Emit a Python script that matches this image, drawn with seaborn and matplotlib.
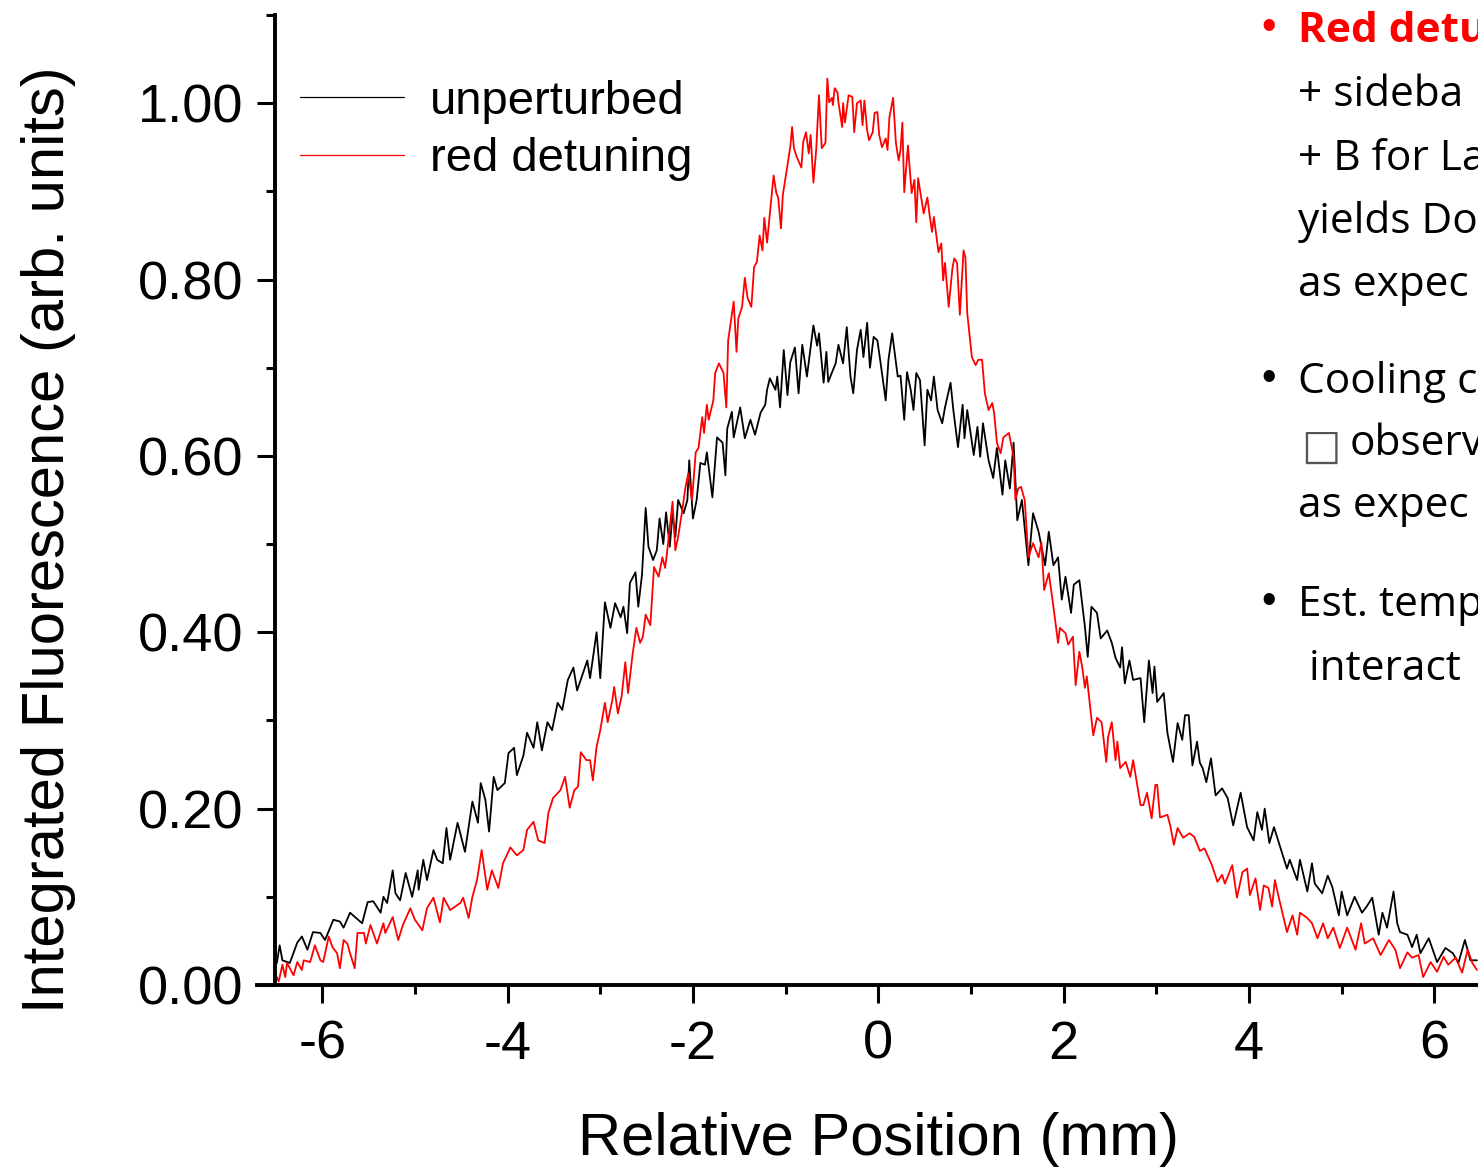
import matplotlib
matplotlib.use('Agg')
import numpy as np
import pandas as pd
import seaborn as sns
from matplotlib import pyplot as plt
from matplotlib.ticker import MultipleLocator, FormatStrFormatter

# values
unperturbed_x = [
    -6.49, -6.46, -6.43, -6.35, -6.27, -6.22, -6.16, -6.10, -6.02, -5.97, -5.88, -5.81, -5.77, -5.70,
    -5.57, -5.51, -5.45, -5.37, -5.34, -5.30, -5.24, -5.21, -5.16, -5.10, -5.03, -4.97, -4.96, -4.91,
    -4.87, -4.80, -4.76, -4.70, -4.66, -4.62, -4.54, -4.46, -4.38, -4.32, -4.29, -4.24, -4.20, -4.15,
    -4.11, -4.03, -3.99, -3.93, -3.90, -3.83, -3.79, -3.72, -3.68, -3.63, -3.57, -3.52, -3.46, -3.41,
    -3.35, -3.29, -3.25, -3.14, -3.11, -3.04, -3.00, -2.95, -2.89, -2.84, -2.78, -2.75, -2.71, -2.68,
    -2.62, -2.59, -2.55, -2.51, -2.48, -2.43, -2.39, -2.36, -2.32, -2.29, -2.25, -2.22, -2.19, -2.16,
    -2.10, -2.06, -2.04, -2.00, -1.96, -1.92, -1.87, -1.85, -1.79, -1.74, -1.68, -1.65, -1.63, -1.58,
    -1.56, -1.49, -1.44, -1.38, -1.33, -1.27, -1.22, -1.20, -1.17, -1.11, -1.09, -1.06, -1.02, -0.98,
    -0.95, -0.90, -0.86, -0.82, -0.77, -0.70, -0.66, -0.64, -0.59, -0.56, -0.54, -0.46, -0.43, -0.38,
    -0.34, -0.30, -0.27, -0.23, -0.19, -0.16, -0.12, -0.09, -0.05, -0.01, 0.02, 0.08, 0.11, 0.15,
    0.21, 0.24, 0.28, 0.31, 0.35, 0.38, 0.41, 0.45, 0.50, 0.53, 0.57, 0.60, 0.64, 0.69, 0.72, 0.78,
    0.81, 0.86, 0.91, 0.93, 0.96, 1.03, 1.07, 1.10, 1.13, 1.19, 1.24, 1.28, 1.34, 1.37, 1.42, 1.46,
    1.50, 1.55, 1.62, 1.67, 1.73, 1.80, 1.84, 1.89, 1.94, 1.98, 2.02, 2.08, 2.11, 2.17, 2.23, 2.26,
    2.30, 2.36, 2.40, 2.47, 2.52, 2.56, 2.61, 2.63, 2.66, 2.71, 2.75, 2.83, 2.87, 2.92, 2.96, 2.98,
    3.01, 3.08, 3.12, 3.18, 3.23, 3.28, 3.31, 3.35, 3.39, 3.44, 3.47, 3.50, 3.54, 3.59, 3.64, 3.71,
    3.77, 3.83, 3.91, 3.98, 4.05, 4.09, 4.14, 4.17, 4.22, 4.27, 4.36, 4.41, 4.44, 4.52, 4.55, 4.63,
    4.68, 4.71, 4.79, 4.85, 4.90, 4.97, 5.00, 5.06, 5.14, 5.22, 5.27, 5.33, 5.40, 5.44, 5.49, 5.56,
    5.60, 5.63, 5.71, 5.76, 5.81, 5.85, 5.94, 6.03, 6.12, 6.20, 6.26, 6.33, 6.39, 6.46]
unperturbed_y = [
    0.025, 0.045, 0.028, 0.025, 0.048, 0.055, 0.040, 0.060, 0.059, 0.051, 0.074, 0.072, 0.065, 0.082,
    0.070, 0.094, 0.095, 0.082, 0.100, 0.093, 0.130, 0.104, 0.096, 0.127, 0.100, 0.130, 0.108, 0.142,
    0.119, 0.153, 0.142, 0.138, 0.178, 0.142, 0.184, 0.151, 0.208, 0.184, 0.229, 0.210, 0.174, 0.236,
    0.221, 0.229, 0.263, 0.269, 0.238, 0.260, 0.286, 0.269, 0.298, 0.266, 0.298, 0.289, 0.320, 0.312,
    0.346, 0.360, 0.334, 0.368, 0.348, 0.400, 0.348, 0.434, 0.405, 0.433, 0.417, 0.429, 0.399, 0.456,
    0.468, 0.429, 0.465, 0.541, 0.497, 0.482, 0.493, 0.529, 0.500, 0.536, 0.497, 0.535, 0.508, 0.550,
    0.535, 0.550, 0.595, 0.529, 0.550, 0.592, 0.590, 0.604, 0.553, 0.621, 0.615, 0.578, 0.631, 0.650,
    0.621, 0.655, 0.620, 0.641, 0.624, 0.649, 0.658, 0.675, 0.688, 0.675, 0.690, 0.655, 0.720, 0.669,
    0.706, 0.723, 0.671, 0.726, 0.690, 0.748, 0.725, 0.739, 0.683, 0.718, 0.684, 0.705, 0.726, 0.705,
    0.746, 0.690, 0.671, 0.720, 0.743, 0.712, 0.751, 0.700, 0.735, 0.731, 0.709, 0.663, 0.709, 0.739,
    0.690, 0.691, 0.641, 0.695, 0.675, 0.652, 0.694, 0.686, 0.612, 0.675, 0.663, 0.690, 0.652, 0.637,
    0.655, 0.683, 0.652, 0.610, 0.658, 0.620, 0.652, 0.601, 0.633, 0.599, 0.637, 0.595, 0.575, 0.609,
    0.556, 0.595, 0.563, 0.615, 0.527, 0.550, 0.476, 0.535, 0.514, 0.476, 0.514, 0.476, 0.485, 0.437,
    0.463, 0.422, 0.454, 0.459, 0.406, 0.372, 0.429, 0.422, 0.393, 0.402, 0.388, 0.371, 0.360, 0.383,
    0.342, 0.368, 0.346, 0.348, 0.298, 0.368, 0.331, 0.361, 0.321, 0.331, 0.286, 0.253, 0.297, 0.278,
    0.306, 0.306, 0.249, 0.276, 0.252, 0.246, 0.230, 0.257, 0.215, 0.223, 0.212, 0.181, 0.218, 0.179,
    0.164, 0.196, 0.176, 0.200, 0.161, 0.179, 0.149, 0.132, 0.142, 0.119, 0.142, 0.106, 0.138, 0.115,
    0.104, 0.124, 0.111, 0.079, 0.106, 0.079, 0.100, 0.082, 0.089, 0.099, 0.057, 0.082, 0.065, 0.106,
    0.070, 0.060, 0.057, 0.043, 0.057, 0.036, 0.053, 0.026, 0.042, 0.036, 0.025, 0.051, 0.028, 0.028]

red_x = [
    -6.49, -6.47, -6.43, -6.40, -6.38, -6.31, -6.27, -6.22, -6.20, -6.13, -6.08, -6.02, -5.99, -5.93,
    -5.89, -5.84, -5.81, -5.77, -5.73, -5.70, -5.65, -5.62, -5.55, -5.53, -5.48, -5.41, -5.34, -5.32,
    -5.24, -5.18, -5.13, -5.05, -5.00, -4.92, -4.87, -4.80, -4.73, -4.69, -4.62, -4.51, -4.48, -4.42,
    -4.38, -4.33, -4.28, -4.22, -4.17, -4.10, -4.05, -3.97, -3.90, -3.83, -3.79, -3.72, -3.67, -3.60,
    -3.56, -3.51, -3.43, -3.38, -3.33, -3.28, -3.24, -3.21, -3.15, -3.11, -3.08, -3.04, -3.00, -2.95,
    -2.92, -2.87, -2.85, -2.81, -2.77, -2.73, -2.70, -2.65, -2.61, -2.57, -2.54, -2.51, -2.46, -2.42,
    -2.37, -2.33, -2.30, -2.28, -2.22, -2.19, -2.16, -2.12, -2.08, -2.05, -2.01, -1.97, -1.94, -1.90,
    -1.88, -1.85, -1.83, -1.78, -1.76, -1.72, -1.67, -1.64, -1.62, -1.56, -1.53, -1.51, -1.47, -1.44,
    -1.41, -1.37, -1.34, -1.31, -1.28, -1.25, -1.23, -1.20, -1.13, -1.10, -1.08, -1.05, -1.03, -0.98,
    -0.95, -0.93, -0.91, -0.88, -0.83, -0.81, -0.78, -0.75, -0.73, -0.70, -0.67, -0.64, -0.61, -0.57,
    -0.55, -0.53, -0.50, -0.49, -0.47, -0.44, -0.43, -0.39, -0.38, -0.36, -0.32, -0.28, -0.26, -0.23,
    -0.19, -0.17, -0.15, -0.12, -0.10, -0.06, -0.04, -0.01, 0.01, 0.04, 0.08, 0.10, 0.12, 0.16,
    0.19, 0.22, 0.24, 0.26, 0.28, 0.32, 0.36, 0.39, 0.41, 0.43, 0.49, 0.53, 0.55, 0.58,
    0.60, 0.65, 0.68, 0.70, 0.72, 0.76, 0.80, 0.82, 0.85, 0.88, 0.92, 0.94, 0.96, 1.01,
    1.05, 1.08, 1.12, 1.15, 1.19, 1.23, 1.25, 1.28, 1.32, 1.35, 1.41, 1.46, 1.48, 1.51,
    1.54, 1.58, 1.62, 1.67, 1.73, 1.76, 1.79, 1.84, 1.89, 1.94, 1.96, 2.02, 2.05, 2.10,
    2.13, 2.17, 2.20, 2.23, 2.25, 2.32, 2.36, 2.41, 2.46, 2.48, 2.52, 2.56, 2.58, 2.61,
    2.67, 2.72, 2.75, 2.83, 2.86, 2.90, 2.95, 2.99, 3.01, 3.04, 3.12, 3.15, 3.19, 3.23,
    3.29, 3.36, 3.41, 3.47, 3.52, 3.60, 3.66, 3.71, 3.74, 3.82, 3.87, 3.93, 3.98, 4.01,
    4.07, 4.12, 4.16, 4.21, 4.25, 4.28, 4.32, 4.36, 4.41, 4.47, 4.52, 4.55, 4.63, 4.68,
    4.74, 4.80, 4.85, 4.91, 4.98, 5.06, 5.15, 5.21, 5.25, 5.34, 5.42, 5.51, 5.58, 5.63,
    5.71, 5.76, 5.83, 5.88, 5.96, 6.03, 6.10, 6.15, 6.23, 6.30, 6.36, 6.41, 6.46]
red_y = [
    0.009, 0.004, 0.023, 0.009, 0.025, 0.011, 0.026, 0.017, 0.028, 0.026, 0.045, 0.028, 0.026, 0.055,
    0.043, 0.036, 0.019, 0.051, 0.047, 0.036, 0.019, 0.059, 0.059, 0.047, 0.068, 0.047, 0.070, 0.059,
    0.077, 0.051, 0.068, 0.087, 0.074, 0.062, 0.087, 0.099, 0.071, 0.099, 0.085, 0.093, 0.099, 0.076,
    0.100, 0.119, 0.153, 0.108, 0.130, 0.110, 0.138, 0.156, 0.147, 0.153, 0.176, 0.185, 0.164, 0.161,
    0.195, 0.212, 0.221, 0.236, 0.201, 0.221, 0.225, 0.264, 0.255, 0.255, 0.232, 0.270, 0.289, 0.320,
    0.298, 0.323, 0.338, 0.308, 0.327, 0.366, 0.331, 0.376, 0.405, 0.388, 0.395, 0.420, 0.408, 0.474,
    0.463, 0.485, 0.473, 0.490, 0.548, 0.493, 0.508, 0.535, 0.565, 0.580, 0.550, 0.604, 0.609, 0.644,
    0.626, 0.658, 0.641, 0.663, 0.694, 0.705, 0.694, 0.655, 0.731, 0.775, 0.718, 0.756, 0.769, 0.802,
    0.779, 0.769, 0.814, 0.820, 0.850, 0.833, 0.870, 0.842, 0.918, 0.898, 0.893, 0.858, 0.896, 0.930,
    0.950, 0.973, 0.949, 0.939, 0.927, 0.956, 0.967, 0.943, 0.964, 0.910, 0.947, 1.009, 0.949, 0.955,
    1.028, 1.001, 1.006, 0.998, 1.017, 1.012, 1.001, 0.973, 1.000, 0.978, 1.009, 1.007, 0.967, 1.000,
    1.003, 0.975, 1.003, 0.969, 0.958, 0.967, 0.989, 0.990, 0.964, 0.950, 0.960, 0.947, 0.984, 1.006,
    0.955, 0.935, 0.947, 0.978, 0.899, 0.952, 0.898, 0.913, 0.865, 0.915, 0.875, 0.893, 0.876, 0.854,
    0.871, 0.831, 0.841, 0.799, 0.819, 0.769, 0.813, 0.824, 0.819, 0.760, 0.833, 0.825, 0.762, 0.712,
    0.703, 0.709, 0.709, 0.671, 0.652, 0.660, 0.649, 0.615, 0.603, 0.621, 0.626, 0.599, 0.550, 0.563,
    0.565, 0.550, 0.485, 0.501, 0.485, 0.502, 0.448, 0.467, 0.429, 0.388, 0.405, 0.399, 0.386, 0.395,
    0.340, 0.378, 0.361, 0.337, 0.350, 0.283, 0.303, 0.298, 0.253, 0.281, 0.298, 0.255, 0.276, 0.246,
    0.253, 0.236, 0.255, 0.204, 0.204, 0.218, 0.189, 0.227, 0.227, 0.190, 0.193, 0.181, 0.159, 0.178,
    0.167, 0.172, 0.168, 0.152, 0.155, 0.136, 0.117, 0.125, 0.115, 0.136, 0.099, 0.128, 0.132, 0.102,
    0.121, 0.085, 0.113, 0.110, 0.089, 0.119, 0.100, 0.082, 0.060, 0.079, 0.057, 0.082, 0.076, 0.070,
    0.053, 0.070, 0.053, 0.065, 0.042, 0.065, 0.040, 0.070, 0.047, 0.053, 0.034, 0.051, 0.040, 0.019,
    0.037, 0.031, 0.034, 0.009, 0.026, 0.015, 0.032, 0.023, 0.031, 0.014, 0.040, 0.025, 0.017]

series_labels = ['unperturbed', 'red detuning']
series_colors = ['black', 'red']

x_ticks = [-6, -4, -2, 0, 2, 4, 6]
y_ticks = [0.0, 0.2, 0.4, 0.6, 0.8, 1.0]

# notes on the right side (cut off at the figure edge, as in the slide)
note_lines = [
    ('•', 'Red detu', 'red', 'bold'),
    ('', '+ sideba', 'black', 'normal'),
    ('', '+ B for La', 'black', 'normal'),
    ('', 'yields Do', 'black', 'normal'),
    ('', 'as expec', 'black', 'normal'),
    ('•', 'Cooling c', 'black', 'normal'),
    ('', '', 'black', 'normal'),
    ('', 'as expec', 'black', 'normal'),
    ('•', 'Est. temp', 'black', 'normal'),
    ('', ' interact', 'black', 'normal'),
]
note_baselines = [42, 106, 170, 233, 296, 393, 455, 517, 616, 680]

df = pd.concat([
    pd.DataFrame({'x': unperturbed_x, 'y': unperturbed_y, 'series': series_labels[0]}),
    pd.DataFrame({'x': red_x, 'y': red_y, 'series': series_labels[1]}),
])

sns.set_style('ticks')
plt.rcParams['font.family'] = ['Liberation Sans', 'DejaVu Sans']
plt.rcParams['axes.unicode_minus'] = False
for key in ['text.color', 'axes.labelcolor', 'xtick.color', 'ytick.color', 'axes.edgecolor']:
    plt.rcParams[key] = 'black'

W, H = 1478, 1171
fig = plt.figure(figsize=(W / 100, H / 100), dpi=100)
# axes box in pixels: x axis starts a bit left of the y axis (Origin style)
ax_left, ax_bottom, ax_top = 257, 985, 15
ax = fig.add_axes([ax_left / W, 1 - ax_bottom / H, 1 - ax_left / W, (ax_bottom - ax_top) / H])

sns.lineplot(data=df, x='x', y='y', hue='series', palette=series_colors,
             hue_order=series_labels, estimator=None, sort=False, linewidth=1.3, ax=ax)

x_per_px = 1 / 92.67
ax.set_xlim(-6.51 - (275 - ax_left) * x_per_px, -6.51 + (W - 275) * x_per_px)
ax.set_ylim(0, 1.1)

for side in ['top', 'right']:
    ax.spines[side].set_visible(False)
ax.spines['left'].set_position(('data', -6.51))
ax.spines['left'].set_linewidth(2.8)
ax.spines['bottom'].set_linewidth(2.8)

ax.set_xticks(x_ticks)
ax.set_yticks(y_ticks)
ax.xaxis.set_minor_locator(MultipleLocator(1))
ax.yaxis.set_minor_locator(MultipleLocator(0.1))
ax.yaxis.set_major_formatter(FormatStrFormatter('%.2f'))
ax.tick_params(which='major', direction='out', length=13, width=2.2, labelsize=39, pad=10)
ax.tick_params(which='minor', direction='out', length=6.5, width=2.2)
ax.tick_params(axis='x', pad=12)

ax.set_xlabel('Relative Position (mm)', fontsize=43)
ax.xaxis.set_label_coords((879 - ax_left) / (W - ax_left), -0.131)
ax.set_ylabel('Integrated Fluorescence (arb. units)', fontsize=43)
ax.yaxis.set_label_coords(-0.148, 0.459)

handles, labels = ax.get_legend_handles_labels()
leg = ax.legend(handles, labels, loc='upper left', bbox_to_anchor=(300 / W, 1 - 80 / H),
                bbox_transform=fig.transFigure, frameon=False, fontsize=34,
                handlelength=2.2, handletextpad=0.55, labelspacing=0.28,
                borderpad=0, borderaxespad=0)
for line in leg.get_lines():
    line.set_linewidth(0.9)

note_font = ['Open Sans', 'DejaVu Sans']
for (bullet, text, color, weight), base in zip(note_lines, note_baselines):
    if bullet:
        fig.text(1269 / W, 1 - (base - 3) / H, bullet, ha='center', va='baseline',
                 color=color, fontsize=30, family=['Liberation Sans'])
    if text:
        fig.text(1298 / W, 1 - base / H, text, ha='left', va='baseline', color=color,
                 fontsize=30.5, fontweight=weight, family=note_font)

# the "observ" line starts with a missing-glyph box in the slide
fig.text(1301 / W, 1 - 459 / H, '\u25a1', ha='left', va='baseline', color='#555555',
         fontsize=30, family=['DejaVu Sans'])
fig.text(1350 / W, 1 - 455 / H, 'observ', ha='left', va='baseline', color='black',
         fontsize=30.5, family=note_font)

fig.savefig('out.png', dpi=100)
